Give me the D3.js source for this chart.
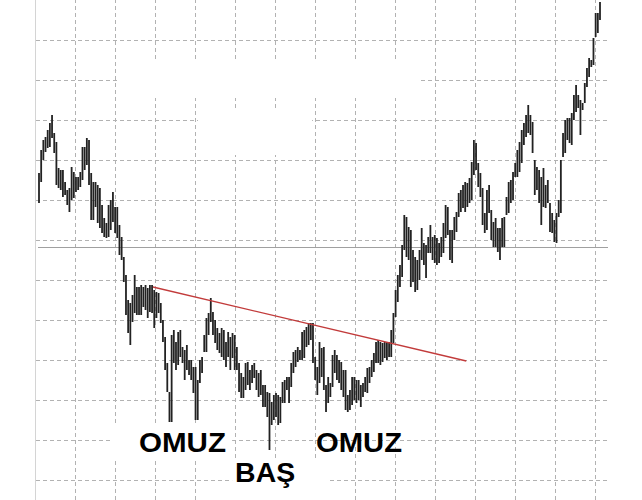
<!DOCTYPE html>
<html>
<head>
<meta charset="utf-8">
<script src="https://cdn.jsdelivr.net/npm/d3@7"></script>
<style>
  body { margin: 0; background: #fff; }
  svg { display: block; }
</style>
</head>
<body>
<svg width="642" height="500"></svg>
<script>
// bar highs / lows (one entry per bar, left to right)
const highs = [
  86.75, 92.5, 95, 95.75, 97.5, 99.25, 101.25, 96.75, 94.5, 88,
  87.5, 87.5, 84.5, 82.5, 83, 88.25, 87, 85.75, 85.75, 87,
  93.25, 93.25, 95.5, 95, 86.75, 84.5, 84.5, 83.75, 83, 78.75,
  75.5, 74.25, 78.75, 80, 82, 78.25, 78.25, 73.75, 70.75, 65.75,
  61.25, 55, 54.25, 56.25, 61.25, 58.25, 58.25, 58.75, 58.25, 58.75,
  58, 58.75, 58.75, 57.5, 57, 56.75, 54.25, 50, 45.75, 39.25,
  32, 46.25, 47.5, 44.5, 47, 47.5, 43.25, 42.5, 43.75, 40,
  40, 38.25, 38.25, 35, 40, 40.75, 46.25, 50.5, 51.75, 55.5,
  52, 50, 48, 46.75, 48, 47.5, 44.5, 47, 45.75, 46.75,
  46.25, 43.25, 39.25, 36.75, 35.75, 39.25, 39.5, 37.5, 38.75, 39.25,
  37.5, 36.75, 37.5, 33.75, 33.75, 32, 31.75, 29.5, 31.25, 31.75,
  31.25, 30.75, 34.5, 35, 35.75, 35.75, 39.25, 42, 42.5, 43.25,
  42.5, 47, 47.5, 48.25, 49.25, 49.25, 49.25, 40.75, 38.25, 44.5,
  43, 43.25, 33.75, 35.75, 34.25, 41.25, 42.5, 41.25, 40, 39.5,
  37.5, 37.5, 31.25, 32.5, 35.75, 35.75, 35, 35, 33.75, 34.25,
  35.75, 38, 38.25, 40, 41.75, 44.5, 45, 44.5, 44.25, 44.5,
  44.5, 44.5, 47.5, 51.75, 57.5, 61.25, 63.75, 68.75, 76.25, 75.75,
  73.25, 72.5, 67.5, 65.75, 65, 67.5, 73, 69.25, 68.75, 70.75,
  73.75, 70.75, 71.25, 70.5, 69.25, 70.75, 74.25, 78.75, 78.25, 72.5,
  72.5, 75.75, 77, 81.75, 82.5, 83.75, 84.5, 84.25, 85.5, 89.5,
  95, 94.25, 89.25, 86.75, 83, 76.75, 82.5, 83.75, 77.5, 74.5,
  75.5, 73, 73, 75.5, 75.75, 80.75, 84.5, 85, 87, 89.25,
  92.5, 94.5, 97.5, 99.25, 101.25, 103.75, 101.25, 99.5, 90, 88.25,
  87.5, 85.75, 88, 83.75, 85, 79.25, 76.75, 75, 76.75, 80,
  90, 96.75, 100, 100.5, 100.5, 101.75, 106.25, 108.75, 106.25, 105,
  104.25, 109.25, 113, 115.5, 115, 120.5, 126.75, 126.75, 129.5
];
const lows = [
  79.25, 84.5, 90, 92, 93, 93.25, 95.5, 91.75, 83.75, 83,
  82.5, 80.75, 81.25, 78.75, 77, 80, 80.5, 82, 82.5, 83.25,
  85, 87.5, 88.75, 83.75, 75, 75, 78.25, 74.25, 73, 71.75,
  70.75, 70.5, 70.75, 72.5, 74.5, 71.75, 70.5, 66.25, 65, 59.5,
  51.25, 46.75, 43.75, 49.5, 51.75, 51.25, 51.25, 51.25, 53.25, 52.5,
  50.5, 52, 51.75, 48, 50.5, 51.75, 49.25, 44.5, 37.5, 32,
  24.5, 24.5, 39.25, 37.5, 38.75, 40.75, 39.25, 35, 37.5, 36.25,
  35, 31.75, 25, 25, 34.25, 36.75, 42, 42, 46.25, 49.5,
  46.25, 44.25, 42.5, 41.75, 40.75, 40, 38.25, 40.75, 37.5, 40.5,
  37.5, 37.5, 32, 30.5, 30.5, 32.5, 33.75, 32.5, 34.25, 35.5,
  32.5, 30.75, 31.25, 28.25, 28.25, 25.75, 17.5, 23.75, 25, 25.75,
  23.75, 24.25, 29.25, 29.25, 32.5, 29.25, 33.25, 36.75, 38.25, 39.5,
  40, 40, 40.5, 43.25, 43.75, 45, 39.25, 35, 31.25, 34.25,
  35.75, 32.5, 27, 29.25, 30.75, 33.25, 36.75, 35, 34.25, 32.5,
  30.75, 27.5, 27, 27.5, 28.75, 30, 29.25, 30, 28.25, 30.75,
  32, 31.75, 34.25, 35.75, 37, 39.25, 39.25, 38.75, 39.5, 40.5,
  40, 40.75, 40.75, 44.25, 50.75, 54.5, 58.25, 60.75, 67.5, 65.75,
  65, 58.25, 59.5, 57, 57.5, 60, 65, 63.75, 60.5, 66.75,
  66.75, 65, 64.25, 63.75, 64.25, 65.75, 66.75, 70.5, 71.25, 65,
  64.25, 70, 72, 75.75, 77, 78, 77, 78.25, 79.25, 80,
  86.25, 87.5, 83.25, 80.75, 73.75, 71.75, 72.5, 76.75, 70, 68.25,
  68.25, 67, 65, 68.25, 68.25, 76.25, 76.75, 79.25, 80, 85.75,
  85.75, 87, 89.25, 93.75, 95.75, 96.75, 96.25, 91.75, 81.25, 82.5,
  79.25, 73.75, 78.25, 78, 79.25, 72, 71.75, 69.5, 69.25, 75.75,
  76.75, 90.75, 91.75, 95, 94.25, 93.75, 100, 102, 103, 96.25,
  102.5, 104.25, 108.25, 110.75, 113.25, 113.75, 120.75, 121.75, 125
];

// price grid levels and time grid positions (in bar units)
const gridPrices = [10, 20, 30, 40, 50, 60, 70, 80, 90, 100, 110, 120];
const gridBars = [16.6, 35, 53.4, 71.8, 90.2, 108.6, 127, 145.4, 163.8, 182.2, 200.6, 219, 237.4, 255.8];
const levelPrice = 68.25;

// neckline (bar, price) end points
const neckBars = [52.4, 196.5];
const neckPrices = [58.25, 39.75];

// pattern labels
const labelTexts = ["OMUZ", "BAŞ", "OMUZ"];
const labelBars = [46, 90.2, 127.4];
const labelPrices = [17, 9.5, 17];
const labelWidths = [87, 60, 86];

const W = 642, H = 500;
const svg = d3.select("svg");

const x = d3.scaleLinear().domain([0, highs.length - 1]).range([39, 600]);
const y = d3.scaleLinear().domain([5, 130]).range([H, 0]);

const left = 36, right = 608;

// left border
svg.append("line")
  .attr("x1", 35.5).attr("x2", 35.5)
  .attr("y1", 0).attr("y2", H)
  .attr("stroke", "#d4d4d4");

// vertical grid
const gx = svg.append("g")
  .attr("class", "grid")
  .attr("transform", `translate(0,${H})`)
  .call(d3.axisBottom(x).tickValues(gridBars).tickSize(-H).tickFormat(""));
gx.select(".domain").remove();

// horizontal grid
const gy = svg.append("g")
  .attr("class", "grid")
  .attr("transform", `translate(${left},0)`)
  .call(d3.axisLeft(y).tickValues(gridPrices).tickSize(-(right - left)).tickFormat(""));
gy.select(".domain").remove();

svg.selectAll(".grid .tick line")
  .attr("stroke", "#b2b2b2")
  .attr("stroke-width", 1)
  .attr("stroke-dasharray", "4,3")
  .attr("shape-rendering", "crispEdges");

// faded patches where the grid is missing
const patches = [
  { b0: 35.9, b1: 174.3, p0: 114.5, p1: 105.5 },
  { b0: 73.1, b1: 125.6, p0: 102.5, p1: 91.25 }
];
svg.selectAll(".patch")
  .data(patches)
  .enter()
  .append("rect")
  .attr("x", (d) => x(d.b0))
  .attr("y", (d) => y(d.p0))
  .attr("width", (d) => x(d.b1) - x(d.b0))
  .attr("height", (d) => y(d.p1) - y(d.p0))
  .attr("fill", "#fff");

// level line
svg.append("line")
  .attr("x1", 38).attr("x2", right)
  .attr("y1", Math.round(y(levelPrice)) + 0.5)
  .attr("y2", Math.round(y(levelPrice)) + 0.5)
  .attr("stroke", "#a0a0a0");

// bars
svg.selectAll(".bar")
  .data(highs)
  .enter()
  .append("line")
  .classed("bar", true)
  .attr("x1", (d, i) => x(i))
  .attr("x2", (d, i) => x(i))
  .attr("y1", (d) => y(d))
  .attr("y2", (d, i) => y(lows[i]))
  .attr("stroke", "#222")
  .attr("stroke-width", 1.8);

// neckline
svg.append("line")
  .attr("x1", x(neckBars[0])).attr("y1", y(neckPrices[0]))
  .attr("x2", x(neckBars[1])).attr("y2", y(neckPrices[1]))
  .attr("stroke", "#c23b3b")
  .attr("stroke-width", 1.3);

// white boxes behind the left label and the head label
const boxes = [
  { b0: 34, b1: 88.8, p0: 23.5, p1: 15.5 },
  { b0: 88.8, b1: 132.5, p0: 15.5, p1: 5 }
];
svg.selectAll(".box")
  .data(boxes)
  .enter()
  .append("rect")
  .attr("x", (d) => x(d.b0))
  .attr("y", (d) => y(d.p0))
  .attr("width", (d) => x(d.b1) - x(d.b0))
  .attr("height", (d) => y(d.p1) - y(d.p0))
  .attr("fill", "#fff");

// labels
svg.selectAll(".lbl")
  .data(labelTexts)
  .enter()
  .append("text")
  .attr("x", (d, i) => x(labelBars[i]))
  .attr("y", (d, i) => y(labelPrices[i]))
  .attr("textLength", (d, i) => labelWidths[i])
  .attr("lengthAdjust", "spacingAndGlyphs")
  .attr("font-family", "'Liberation Sans', Arial, sans-serif")
  .attr("font-weight", "bold")
  .attr("font-size", 27)
  .attr("fill", "#000")
  .text((d) => d);
</script>
</body>
</html>
